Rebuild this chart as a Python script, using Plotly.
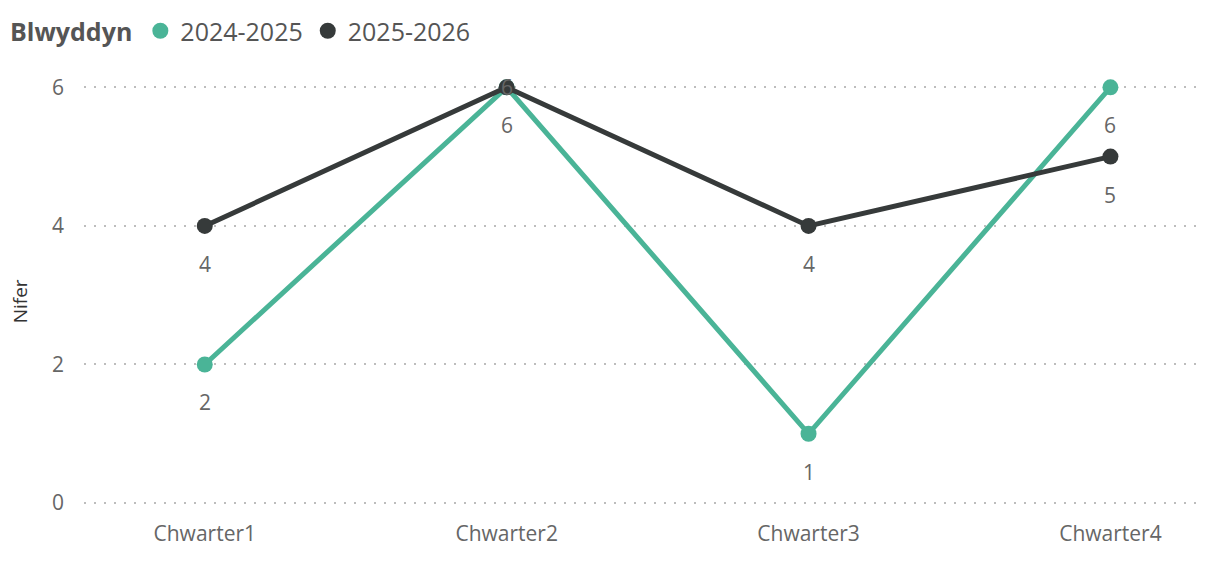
import plotly.graph_objects as go

categories = ["Chwarter1", "Chwarter2", "Chwarter3", "Chwarter4"]
series_names = ["2024-2025", "2025-2026"]
values_2024_2025 = [2, 6, 1, 6]
values_2025_2026 = [4, 6, 4, 5]
label_shift_2024_2025 = [-38, 0, -38, -38]
label_shift_2025_2026 = [-38, -38, -38, -38]
y_ticks = [0, 2, 4, 6]
y_title = "Nifer"
legend_title = "Blwyddyn"

colors = ["#4AB497", "#363A3A"]
label_color = "#666666"
font_family = "Segoe UI, Open Sans, Noto Sans, sans-serif"

fig = go.Figure()
for name, vals, col in [(series_names[0], values_2024_2025, colors[0]),
                        (series_names[1], values_2025_2026, colors[1])]:
    fig.add_trace(go.Scatter(
        x=categories, y=vals, name=name, legendgroup=name,
        mode="lines", showlegend=False,
        line=dict(color=col, width=5),
        hoverinfo="skip",
    ))
    fig.add_trace(go.Scatter(
        x=categories, y=vals, name=name, legendgroup=name,
        mode="markers", showlegend=True,
        marker=dict(color=col, size=16),
        hoverinfo="skip",
    ))

annotations = []
for vals, shifts in [(values_2024_2025, label_shift_2024_2025),
                     (values_2025_2026, label_shift_2025_2026)]:
    for c, v, s in zip(categories, vals, shifts):
        annotations.append(dict(
            x=c, y=v, xref="x", yref="y", text=str(v), showarrow=False,
            yshift=s, font=dict(size=21, color=label_color, family=font_family),
        ))
annotations.append(dict(
    x=-0.057, y=0.475, xref="paper", yref="paper", text=y_title,
    textangle=-90, showarrow=False, xanchor="center", yanchor="middle",
    font=dict(size=19, color="#333333", family=font_family),
))

fig.update_layout(
    width=1223, height=562,
    margin=dict(l=76, r=30, t=62, b=60, autoexpand=False),
    paper_bgcolor="white", plot_bgcolor="white",
    font=dict(family=font_family, color=label_color),
    showlegend=True,
    annotations=annotations,
    legend=dict(
        orientation="h", x=0.0, xanchor="left", y=1.0, yanchor="top",
        yref="container", xref="container",
        title=dict(text="<b>" + legend_title + "</b>", font=dict(size=25, color="#555555")),
        font=dict(size=25, color="#555555"),
        itemsizing="trace", itemwidth=30, tracegroupgap=0,
    ),
    xaxis=dict(
        type="category", range=[-0.4, 3.3],
        showgrid=False, zeroline=False, showline=False, ticks="",
        ticklabelstandoff=9,
        tickfont=dict(size=21, color=label_color),
    ),
    yaxis=dict(
        range=[-0.1, 6.25], tickvals=y_ticks,
        showgrid=True, gridcolor="#BDBDBD", gridwidth=1.5, griddash="2px,8px",
        zeroline=False, showline=False, ticks="", ticklabelstandoff=19,
        tickfont=dict(size=21, color=label_color),
    ),
)

fig.write_html("out.html")
